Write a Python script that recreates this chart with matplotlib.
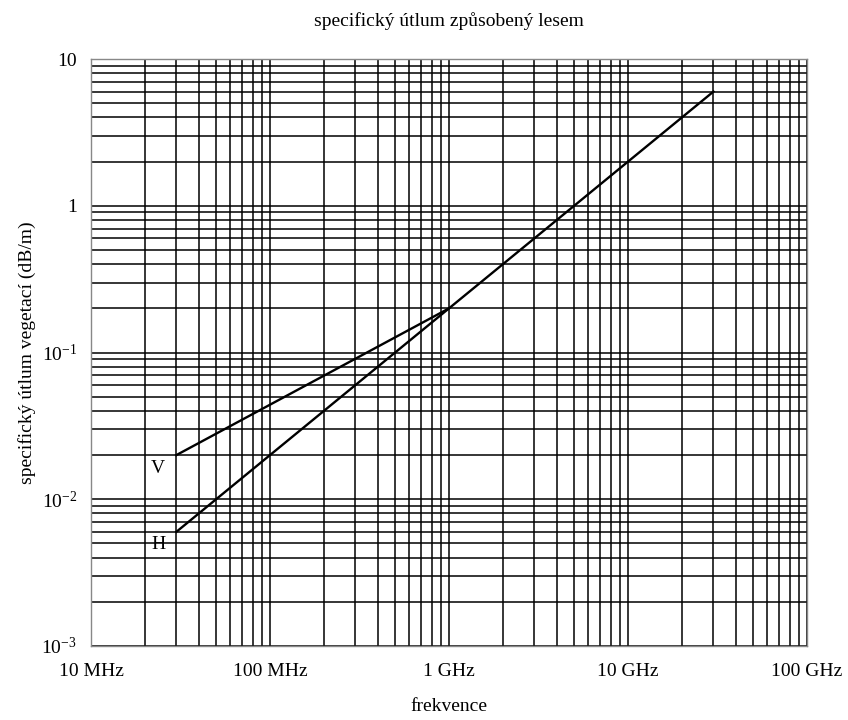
import matplotlib
matplotlib.use('Agg')
import matplotlib.pyplot as plt
from matplotlib.ticker import LogLocator, NullFormatter, FixedLocator

plt.rcParams['font.family'] = ['Liberation Serif', 'DejaVu Serif']
plt.rcParams['mathtext.fontset'] = 'custom'
plt.rcParams['mathtext.rm'] = 'Liberation Serif'
plt.rcParams['mathtext.it'] = 'Liberation Serif:italic'

# frequencies in Hz
freq_v = [30e6, 1e9]
att_v = [0.02, 0.2]
freq_h = [30e6, 1e9, 30e9]
att_h = [0.006, 0.2, 6.0]

xticks = [1e7, 1e8, 1e9, 1e10, 1e11]
xticklabels = ['10 MHz', '100 MHz', '1 GHz', '10 GHz', '100 GHz']
yticks = [1e-3, 1e-2, 1e-1, 1, 10]
yticklabels = [r'$\mathregular{10^{-3}}$', r'$\mathregular{10^{-2}}$',
               r'$\mathregular{10^{-1}}$', '1', '10']

fig = plt.figure(figsize=(8.48, 7.2), dpi=100)
ax = fig.add_axes([0.1073, 0.1028, 0.8444, 0.8152])

ax.plot(freq_v, att_v, color='black', lw=1.7)
ax.plot(freq_h, att_h, color='black', lw=1.7)

ax.set_xscale('log')
ax.set_yscale('log')
ax.set_xlim(1e7, 1e11)
ax.set_ylim(1e-3, 10)

ax.xaxis.set_major_locator(FixedLocator(xticks))
ax.set_xticklabels(xticklabels, fontsize=14)
ax.yaxis.set_major_locator(FixedLocator(yticks))
ax.set_yticklabels(yticklabels, fontsize=14)
ax.xaxis.set_minor_locator(LogLocator(base=10, subs=range(2, 10), numticks=20))
ax.yaxis.set_minor_locator(LogLocator(base=10, subs=range(2, 10), numticks=20))
ax.xaxis.set_minor_formatter(NullFormatter())
ax.yaxis.set_minor_formatter(NullFormatter())
ax.tick_params(which='both', length=0)
ax.tick_params(axis='x', pad=12)
ax.tick_params(axis='y', pad=10)

ax.grid(which='both', color='black', lw=1.1)
ax.set_axisbelow(True)
for s in ax.spines.values():
    s.set_color('#888888')
    s.set_linewidth(1.0)

ax.text(2.37e7, 0.0163, 'V', fontsize=14, ha='center', va='center')
ax.text(2.37e7, 0.00488, 'H', fontsize=14, ha='center', va='center')

ax.set_title('specifický útlum způsobený lesem', fontsize=14, pad=24)
ax.set_xlabel('frekvence', fontsize=14, labelpad=13)
ax.set_ylabel('specifický útlum vegetací (dB/m)', fontsize=14, labelpad=4)

fig.savefig('out.png', dpi=100)
